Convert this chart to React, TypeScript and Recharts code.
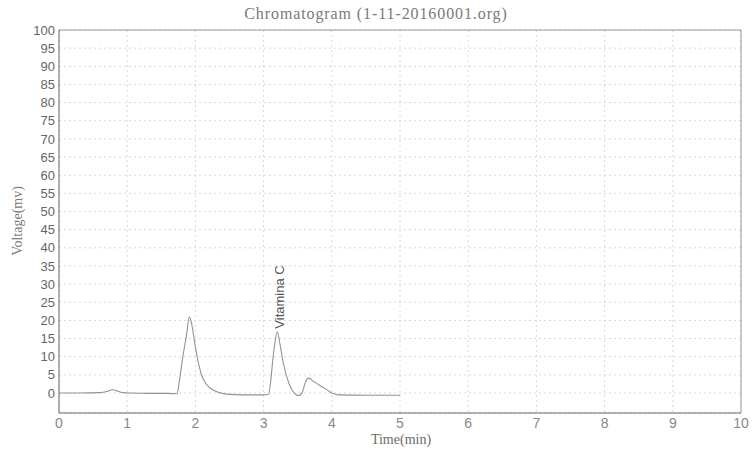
import React from 'react';
import { LineChart, Line, XAxis, YAxis, CartesianGrid, ReferenceLine, ReferenceDot } from 'recharts';

const times = [
  0, 0.3, 0.6, 0.7, 0.78, 0.86, 0.95, 1.05, 1.3, 1.6, 1.73, 1.76, 1.82, 1.87, 1.91, 1.94, 1.98, 2.02, 2.06, 2.1,
  2.15, 2.2, 2.28, 2.45, 2.7, 3.0, 3.07, 3.1, 3.13, 3.16, 3.2, 3.24, 3.29, 3.37, 3.45, 3.52, 3.57, 3.61, 3.66, 3.74,
  3.83, 3.92, 4.0, 4.1, 4.5, 5.0,
];
const voltage = [
  0, 0, 0.1, 0.4, 0.9, 0.5, 0.1, 0, -0.1, -0.1, -0.2, 2.7, 10.5, 16, 21, 19.5, 15, 10.5, 7, 4.5,
  2.7, 1.6, 0.6, -0.3, -0.5, -0.5, -0.4, 2.5, 8.2, 13, 16.9, 13.5, 8.2, 2.7, 0, -0.7, 0.3, 2.8, 4.1, 3.1,
  2.0, 1.0, 0, -0.5, -0.6, -0.6,
];
const xTicks = [0, 1, 2, 3, 4, 5, 6, 7, 8, 9, 10];
const yTicks = [0, 5, 10, 15, 20, 25, 30, 35, 40, 45, 50, 55, 60, 65, 70, 75, 80, 85, 90, 95, 100];
const peakName = 'Vitamina C';
const peakTime = 3.2;
const peakVoltage = 16.9;

const data = times.map((t, i) => ({ t, v: voltage[i] }));

const yTickStyle = { fontFamily: '"Liberation Sans", Arial, sans-serif', fontSize: 13, fill: '#666' };
const xTickStyle = { fontFamily: '"Liberation Sans", Arial, sans-serif', fontSize: 14, fill: '#888' };

export default function App() {
  return (
    <div style={{ position: 'absolute', left: 0, top: 0, width: 752, height: 450, background: '#fff' }}>
      <div
        style={{
          position: 'absolute',
          left: 0,
          top: 5,
          width: 752,
          textAlign: 'center',
          fontFamily: '"Liberation Serif", serif',
          fontSize: 16,
          letterSpacing: 0.9,
          color: '#7a7a7a',
        }}
      >
        Chromatogram (1-11-20160001.org)
      </div>
      <div
        style={{
          position: 'absolute',
          left: 18,
          top: 221,
          transform: 'translate(-50%, -50%) rotate(-90deg)',
          fontFamily: '"Liberation Serif", serif',
          fontSize: 14,
          color: '#7a7a7a',
          whiteSpace: 'nowrap',
        }}
      >
        Voltage(mv)
      </div>
      <div
        style={{
          position: 'absolute',
          left: 401,
          top: 440,
          transform: 'translate(-50%, -50%)',
          fontFamily: '"Liberation Serif", serif',
          fontSize: 14,
          color: '#6a6a6a',
        }}
      >
        Time(min)
      </div>
      <LineChart width={752} height={450} data={data} margin={{ top: 30, right: 11, bottom: 17, left: 0 }}>
        <CartesianGrid stroke="#d8d8d8" strokeDasharray="2 3" />
        <XAxis
          dataKey="t"
          type="number"
          domain={[0, 10]}
          ticks={xTicks}
          height={20}
          tick={xTickStyle}
          tickSize={3}
          tickLine={false}
          axisLine={{ stroke: '#666' }}
          allowDataOverflow
        />
        <YAxis
          type="number"
          domain={[-5.5, 100]}
          ticks={yTicks}
          width={59}
          tick={yTickStyle}
          tickSize={2}
          tickLine={false}
          axisLine={{ stroke: '#666' }}
          allowDataOverflow
          interval={0}
        />
        <ReferenceLine y={100} stroke="#999" />
        <ReferenceLine x={10} stroke="#999" />
        <Line dataKey="v" type="monotone" stroke="#939393" strokeWidth={1.1} dot={false} isAnimationActive={false} />
        <ReferenceDot
          x={peakTime}
          y={peakVoltage}
          r={0}
          shape={(p: any) => (
            <text
              x={p.cx + 7}
              y={p.cy - 3}
              transform={`rotate(-90 ${p.cx + 7} ${p.cy - 3})`}
              textAnchor="start"
              fontFamily='"Liberation Sans", Arial, sans-serif'
              fontSize={13}
              fill="#555"
            >
              {peakName}
            </text>
          )}
        />
      </LineChart>
    </div>
  );
}
